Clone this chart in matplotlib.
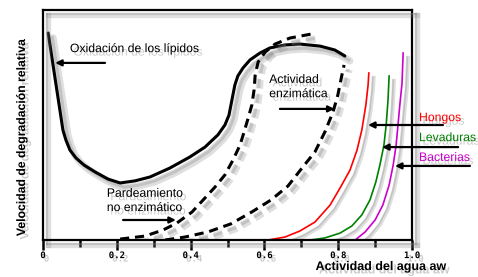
import numpy as np
import matplotlib
matplotlib.use("Agg")
import matplotlib.pyplot as plt
import matplotlib.patheffects as pe

# curve data (x = aw, y = relative rate 0..1)
lip_x = [0.014, 0.054, 0.062, 0.073, 0.089, 0.111, 0.141, 0.176, 0.209, 0.249,
         0.290, 0.344, 0.398, 0.439, 0.474, 0.493, 0.504, 0.512, 0.520, 0.528,
         0.542, 0.561, 0.588, 0.615, 0.656, 0.696, 0.751, 0.791, 0.818]
lip_y = [0.900, 0.478, 0.435, 0.391, 0.357, 0.326, 0.296, 0.265, 0.248, 0.257,
         0.274, 0.313, 0.361, 0.404, 0.457, 0.500, 0.543, 0.609, 0.674, 0.713,
         0.748, 0.783, 0.813, 0.835, 0.848, 0.852, 0.843, 0.826, 0.800]

pard_x = [0.209, 0.276, 0.325, 0.363, 0.404, 0.434, 0.466, 0.493, 0.515, 0.534,
          0.545, 0.556, 0.566, 0.572, 0.575, 0.583, 0.602, 0.629, 0.669, 0.729]
pard_y = [0.004, 0.017, 0.043, 0.074, 0.122, 0.174, 0.230, 0.283, 0.348, 0.413,
          0.470, 0.530, 0.587, 0.652, 0.717, 0.774, 0.817, 0.852, 0.878, 0.896]

enz_x = [0.331, 0.385, 0.447, 0.509, 0.566, 0.618, 0.664, 0.702, 0.737, 0.764,
         0.786, 0.799, 0.810, 0.816]
enz_y = [0.000, 0.013, 0.035, 0.070, 0.122, 0.174, 0.235, 0.313, 0.383, 0.470,
         0.557, 0.630, 0.717, 0.761]

hon_x = [0.610, 0.656, 0.696, 0.737, 0.778, 0.805, 0.832, 0.851, 0.864, 0.875, 0.881, 0.883]
hon_y = [0.000, 0.013, 0.039, 0.078, 0.152, 0.226, 0.304, 0.391, 0.478, 0.587, 0.674, 0.726]

lev_x = [0.724, 0.764, 0.805, 0.837, 0.864, 0.886, 0.902, 0.913, 0.924, 0.930, 0.935, 0.938]
lev_y = [0.000, 0.009, 0.030, 0.061, 0.109, 0.174, 0.252, 0.326, 0.413, 0.500, 0.609, 0.713]

bac_x = [0.846, 0.873, 0.900, 0.921, 0.938, 0.949, 0.957, 0.962, 0.967, 0.973, 0.976]
bac_y = [0.000, 0.035, 0.087, 0.152, 0.239, 0.326, 0.413, 0.500, 0.587, 0.683, 0.813]

major_ticks = [0, 0.2, 0.4, 0.6, 0.8, 1.0]
major_labels = ["0", "0.2", "0.4", "0.6", "0.8", "1.0"]
minor_ticks = [0.1, 0.3, 0.5, 0.7, 0.9]

plt.rcParams['font.family'] = ['Liberation Sans', 'DejaVu Sans']

def line_shadow(lw):
    return [pe.SimpleLineShadow(offset=(3.5, -3.5), shadow_color='gray', alpha=0.25, linewidth=lw * 2.4),
            pe.SimpleLineShadow(offset=(3, -3), shadow_color='gray', alpha=0.3, linewidth=lw),
            pe.Normal()]

text_shadow = [pe.SimplePatchShadow(offset=(2.5, -2.5), shadow_rgbFace='gray', alpha=0.4), pe.Normal()]

fig = plt.figure(figsize=(4.78, 2.77), dpi=100)
ax = fig.add_axes([43 / 478, 1 - 240 / 277, 369 / 478, 230 / 277])
ax.set_xlim(0, 1)
ax.set_ylim(0, 1)

ax.plot(lip_x, lip_y, color='black', lw=2.2, solid_capstyle='round', solid_joinstyle='round',
        path_effects=line_shadow(2.2))
ax.plot(pard_x, pard_y, color='black', lw=2.2, dashes=(3, 1.9), path_effects=line_shadow(2.2))
ax.plot(enz_x, enz_y, color='black', lw=2.2, dashes=(3, 1.9), path_effects=line_shadow(2.2))
ax.plot(hon_x, hon_y, color='red', lw=1.2, path_effects=line_shadow(1.2))
ax.plot(lev_x, lev_y, color='green', lw=1.2, path_effects=line_shadow(1.2))
ax.plot(bac_x, bac_y, color='#cc00cc', lw=1.2, path_effects=line_shadow(1.2))

for sp in ax.spines.values():
    sp.set_linewidth(1.6)
    sp.set_path_effects(line_shadow(1.6))

ax.set_yticks([])
ax.set_xticks(major_ticks)
ax.set_xticklabels(major_labels, family='DejaVu Sans Mono', fontweight='bold', fontsize=6.5)
ax.set_xticks(minor_ticks, minor=True)
ax.tick_params(axis='x', which='major', direction='out', length=7, width=1.8, pad=1)
ax.tick_params(axis='x', which='minor', direction='out', length=5, width=1.8)
for t in ax.get_xticklabels():
    t.set_path_effects(text_shadow)

fig.text(22 / 478, 1 - 137 / 277, "Velocidad de degradación relativa", rotation=90,
         fontsize=8.8, fontweight='bold', ha='center', va='center', path_effects=text_shadow)
fig.text(381 / 478, 1 - 267 / 277, "Actividad del agua aw", fontsize=9,
         fontweight='bold', ha='center', va='center', path_effects=text_shadow)

arrow_kw = dict(arrowstyle='-|>', color='black', lw=1.6, mutation_scale=9, shrinkA=0, shrinkB=0)

def note(text, tx, ty, hx, hy, color='black', tpos=None):
    ax.annotate('', xy=(hx, hy), xytext=(tx, ty), arrowprops=arrow_kw, annotation_clip=False,
                path_effects=line_shadow(1.6))
    ax.text(tpos[0], tpos[1], text, color=color, fontsize=8.8, ha='left', va='center',
            clip_on=False, linespacing=1.25, path_effects=text_shadow)

note("Oxidación de los lípidos", 0.168, 0.770, 0.033, 0.770, tpos=(0.073, 0.830))
note("Actividad\nenzimática", 0.642, 0.570, 0.790, 0.570, tpos=(0.613, 0.665))
note("Pardeamiento\nno enzimático", 0.217, 0.087, 0.360, 0.087, tpos=(0.173, 0.170))
note("Hongos", 1.084, 0.500, 0.881, 0.500, color='red', tpos=(1.019, 0.530))
note("Levaduras", 1.125, 0.404, 0.919, 0.404, color='green', tpos=(1.019, 0.443))
note("Bacterias", 1.157, 0.322, 0.954, 0.322, color='#cc00cc', tpos=(1.019, 0.357))

fig.savefig("out.png", dpi=100)
